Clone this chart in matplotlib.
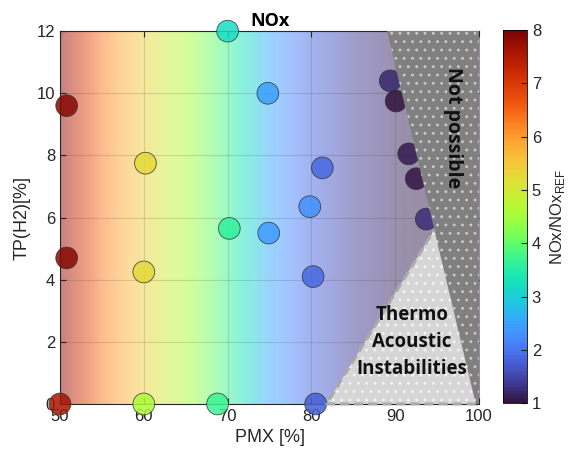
import matplotlib.pyplot as plt
import numpy as np
from matplotlib.patches import Polygon

plt.rcParams['font.family'] = 'Liberation Sans'
plt.rcParams['mathtext.fontset'] = 'custom'
plt.rcParams['mathtext.rm'] = 'Liberation Sans'
plt.rcParams['hatch.linewidth'] = 0.9

# measured operating points
pmx = [50.0, 50.8, 50.8, 60.0, 60.0, 60.2, 68.8, 70.2, 70.0, 74.8,
       74.9, 79.8, 80.2, 81.3, 80.5, 89.4, 90.1, 91.6, 92.5, 93.7]
tp_h2 = [0.0, 4.7, 9.6, 0.0, 4.25, 7.75, 0.0, 5.65, 12.0, 10.0,
         5.5, 6.35, 4.1, 7.6, 0.0, 10.4, 9.75, 8.05, 7.25, 5.95]
nox = [7.6, 7.9, 7.9, 4.6, 5.25, 5.25, 3.7, 3.6, 3.2, 2.45,
       2.4, 2.3, 1.85, 1.85, 1.75, 1.2, 1.0, 1.1, 1.05, 1.25]

# background trend along PMX
bg_pmx = [50, 55, 60, 65, 70, 75, 80, 85, 90, 95, 100]
bg_nox = [7.9, 6.3, 5.35, 4.6, 3.7, 2.55, 1.85, 1.4, 1.15, 1.05, 1.0]

# regions
not_possible = [(89.0, 12), (100, 12), (100, 0), (99.6, 0)]
thermo = [(81.8, 0), (94.65, 5.6), (99.6, 0)]

fig = plt.figure(figsize=(5.69, 4.58), dpi=100)
ax = fig.add_axes([0.1054, 0.118, 0.7366, 0.814])
cax = fig.add_axes([0.884, 0.12, 0.042, 0.814])

# one image row, pixel centres sit on bg_pmx
half = (bg_pmx[1] - bg_pmx[0]) / 2
ax.imshow(np.array([bg_nox]), cmap='turbo', vmin=1, vmax=8, alpha=0.5,
          interpolation='bilinear', aspect='auto', origin='lower',
          extent=[bg_pmx[0] - half, bg_pmx[-1] + half, 0, 12], zorder=0)

sc = ax.scatter(pmx, tp_h2, c=nox, cmap='turbo', vmin=1, vmax=8, s=245,
                alpha=0.85, edgecolors='#333333', linewidths=0.6,
                zorder=3, clip_on=False)

ax.add_patch(Polygon(not_possible, closed=True, facecolor='#808080',
                     edgecolor='none', zorder=4))
ax.add_patch(Polygon(not_possible, closed=True, facecolor='none',
                     edgecolor='#c8c8c8', hatch='..', linewidth=0, zorder=4))
ax.add_patch(Polygon(thermo, closed=True, facecolor='#d6d6d6',
                     edgecolor='none', zorder=4))
ax.add_patch(Polygon(thermo, closed=True, facecolor='none',
                     edgecolor='#f4f4f4', hatch='..', linewidth=0, zorder=4))
ax.plot([thermo[2][0], thermo[0][0], thermo[1][0]],
        [thermo[2][1], thermo[0][1], thermo[1][1]],
        color='#aaaaaa', lw=2.2, ls=(0, (3, 1.6)), zorder=5, clip_on=False)

ax.text(96.9, 8.9, 'Not possible', rotation=-90, ha='center', va='center',
        fontsize=14, fontweight='bold', family='Open Sans', color='#111111',
        zorder=6)
ax.text(92.0, 2.0, 'Thermo\nAcoustic\nInstabilities', ha='center',
        va='center', fontsize=13.5, fontweight='bold', family='Open Sans',
        color='#111111', linespacing=1.45, zorder=6)

ax.set_xlim(50, 100)
ax.set_ylim(0, 12)
ax.set_xticks([50, 60, 70, 80, 90, 100])
ax.set_yticks([0, 2, 4, 6, 8, 10, 12])
ax.grid(True, color='#262626', alpha=0.15, lw=0.8)
ax.tick_params(direction='in', top=True, right=True, labelsize=12,
               colors='#262626', length=4)
for s in ax.spines.values():
    s.set_color('#262626')
    s.set_linewidth(0.8)
ax.spines['right'].set_visible(False)
ax.set_xlabel('PMX [%]', fontsize=13, color='#262626')
ax.set_ylabel('TP(H2)[%]', fontsize=13, color='#262626')
ax.set_title('NOx', fontsize=13, fontweight='bold', family='Open Sans', pad=4)

cb = fig.colorbar(sc, cax=cax)
cb.solids.set_alpha(1)
cb.set_ticks([1, 2, 3, 4, 5, 6, 7, 8])
cb.ax.tick_params(labelsize=12, colors='#262626', direction='in', length=4)
cb.outline.set_linewidth(0.6)
cb.set_label('NOx/NOx$_{\\mathrm{REF}}$', fontsize=12, color='#262626',
             labelpad=5)

fig.savefig('out.png', dpi=100)
